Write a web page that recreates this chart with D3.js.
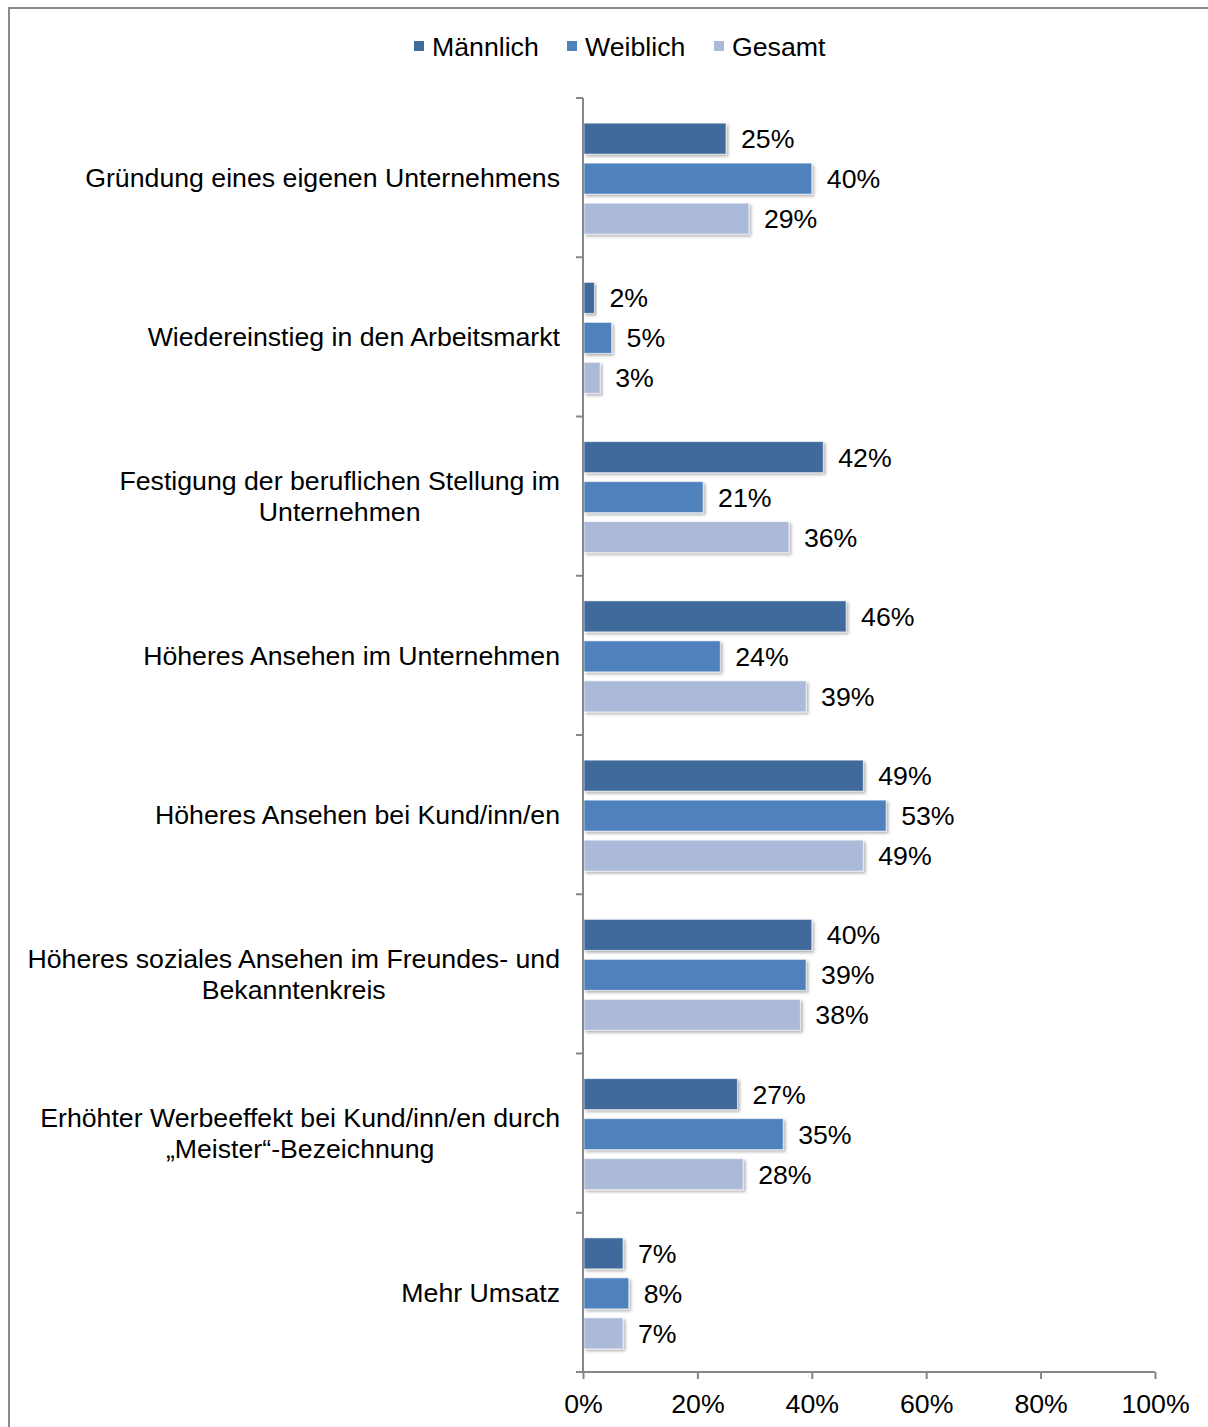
<!DOCTYPE html>
<html><head><meta charset="utf-8">
<script src="https://cdn.jsdelivr.net/npm/d3@7"></script>
<style>body{margin:0;background:#fff}svg{display:block;font-family:"Liberation Sans",Arial,sans-serif}</style>
</head><body><svg id="c" width="1208" height="1427"></svg>
<script>
const categories = [
  ["Gründung eines eigenen Unternehmens"],
  ["Wiedereinstieg in den Arbeitsmarkt"],
  ["Festigung der beruflichen Stellung im","Unternehmen"],
  ["Höheres Ansehen im Unternehmen"],
  ["Höheres Ansehen bei Kund/inn/en"],
  ["Höheres soziales Ansehen im Freundes- und","Bekanntenkreis"],
  ["Erhöhter Werbeeffekt bei Kund/inn/en durch","„Meister“-Bezeichnung"],
  ["Mehr Umsatz"]
];
const seriesNames = ["Männlich","Weiblich","Gesamt"];
const maennlich = [25,2,42,46,49,40,27,7];
const weiblich  = [40,5,21,24,53,39,35,8];
const gesamt    = [29,3,36,39,49,38,28,7];
const xTicks = [0,20,40,60,80,100];
const colors = ["#3F6A9C","#4F81BD","#AABAD8"];

const seriesValues = [maennlich, weiblich, gesamt];
const svg = d3.select("#c");
const fs = 26.7;

// frame
svg.append("rect").attr("x",9).attr("y",8).attr("width",1400).attr("height",1600)
  .attr("fill","none").attr("stroke","#8a8a8a").attr("stroke-width",2);

const defs = svg.append("defs");
const f = defs.append("filter").attr("id","sh").attr("x","-10%").attr("y","-20%").attr("width","130%").attr("height","160%");
f.append("feDropShadow").attr("dx",2).attr("dy",2).attr("stdDeviation",1.5).attr("flood-color","#000").attr("flood-opacity",0.3);

const x = d3.scaleLinear().domain([0,100]).range([583,1155]);
const catIdx = categories.map((d,i)=>i);
const y = d3.scaleBand().domain(catIdx).range([98,1372]).padding(0);
const ys = d3.scaleBand().domain(seriesNames).range([-59,61]);
const barH = 31;

// bars
const g = svg.append("g");
categories.forEach((c,i)=>{
  const cy = y(i) + y.bandwidth()/2;
  seriesNames.forEach((s,j)=>{
    const v = seriesValues[j][i];
    const by = cy + ys(s) + (ys.bandwidth()-barH)/2;
    g.append("rect").attr("x",x(0)+1).attr("y",by).attr("width",x(v)-x(0)-1).attr("height",barH)
      .attr("fill",colors[j]).attr("stroke","#ffffff").attr("stroke-opacity",0.6).attr("stroke-width",1)
      .attr("filter","url(#sh)");
    g.append("text").attr("x",x(v)+15).attr("y",by+barH/2).attr("dy","0.36em")
      .attr("font-size",fs).attr("fill","#000").text(v+"%");
  });
});

// y axis
const yAxisG = svg.append("g");
yAxisG.append("line").attr("x1",x(0)).attr("x2",x(0)).attr("y1",98).attr("y2",1372).attr("stroke","#868686").attr("stroke-width",2);
const yBounds = catIdx.map(i=>y(i)).concat([1372]);
yAxisG.selectAll("line.t").data(yBounds).join("line").attr("class","t")
  .attr("x1",x(0)-7).attr("x2",x(0)).attr("y1",d=>d).attr("y2",d=>d).attr("stroke","#868686").attr("stroke-width",2);

// category labels
categories.forEach((lines,i)=>{
  const cy = y(i) + y.bandwidth()/2;
  const lh = 31;
  const t = svg.append("text").attr("font-size",fs).attr("fill","#000").attr("text-anchor","middle");
  lines.forEach((l,k)=>{
    t.append("tspan").attr("x",0).attr("y",cy + (k-(lines.length-1)/2)*lh).attr("dy","0.36em").text(l);
  });
  let maxW = 0;
  t.selectAll("tspan").each(function(){ maxW = Math.max(maxW, this.getComputedTextLength()); });
  t.selectAll("tspan").attr("x", 560 - maxW/2);
});

// x axis
const xAxis = d3.axisBottom(x).tickValues(xTicks).tickFormat(d=>d+"%").tickSize(7).tickSizeOuter(0);
const xg = svg.append("g").attr("transform","translate(0,1372)").call(xAxis);
xg.select(".domain").attr("stroke","#868686").attr("stroke-width",2).attr("d",`M${x(0)-7},0H${x(100)}`);
xg.selectAll(".tick line").attr("stroke","#868686").attr("stroke-width",2);
xg.selectAll(".tick text").attr("font-size",fs).attr("fill","#000").attr("font-family","Liberation Sans, Arial, sans-serif").attr("y",41).attr("dy","0");

// legend
const legX = [414,567,714];
seriesNames.forEach((s,j)=>{
  svg.append("rect").attr("x",legX[j]).attr("y",41).attr("width",10).attr("height",10).attr("fill",colors[j]);
  svg.append("text").attr("x",legX[j]+18).attr("y",46).attr("dy","0.36em").attr("font-size",fs).attr("fill","#000").text(s);
});
</script></body></html>
